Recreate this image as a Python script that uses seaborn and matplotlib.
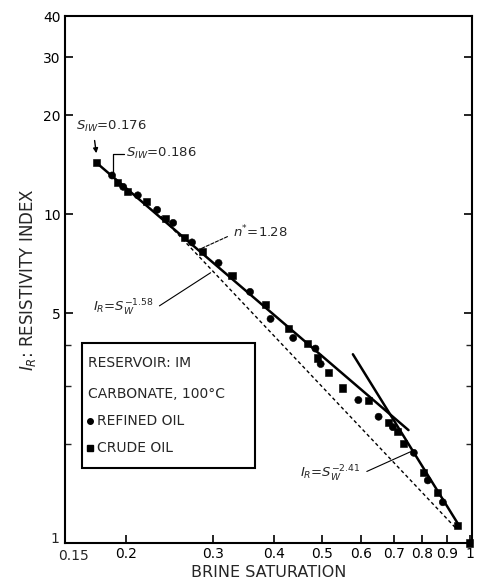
import numpy as np
import pandas as pd
import matplotlib
matplotlib.use("Agg")
import matplotlib.pyplot as plt
from matplotlib.patches import Rectangle
import seaborn as sns

# ---- measured points: brine saturation vs resistivity index ----
refined_sw = [0.187, 0.197, 0.211, 0.231, 0.249, 0.272, 0.308, 0.357, 0.393,
              0.437, 0.485, 0.497, 0.593, 0.652, 0.697, 0.769, 0.821, 0.881]
refined_ir = [13.1, 12.1, 11.4, 10.3, 9.4, 8.2, 7.1, 5.8, 4.8,
              4.2, 3.9, 3.5, 2.72, 2.42, 2.25, 1.88, 1.55, 1.33]

crude_sw = [0.174, 0.192, 0.201, 0.220, 0.240, 0.263, 0.286, 0.328, 0.383,
            0.427, 0.467, 0.490, 0.516, 0.551, 0.622, 0.684, 0.713, 0.733,
            0.806, 0.860, 0.945, 1.0]
crude_ir = [14.3, 12.5, 11.7, 10.9, 9.7, 8.5, 7.7, 6.5, 5.3,
            4.5, 4.05, 3.65, 3.3, 2.96, 2.72, 2.33, 2.18, 2.01,
            1.64, 1.42, 1.13, 1.0]

# ---- fitted saturation exponents ----
n_star = 1.28          # fitted line through the low-saturation data
n_star_coef = 1.525
n_low = 1.58           # Archie reference line (dashed)
n_high = 2.41          # steep segment near full brine saturation
swi_refined = 0.176
swi_crude = 0.186

x_ticks = [0.15, 0.2, 0.3, 0.4, 0.5, 0.6, 0.7, 0.8, 0.9, 1.0]
x_tick_labels = ["0.15", "0.2", "0.3", "0.4", "0.5", "0.6", "0.7", "0.8", "0.9", "1"]
y_ticks = [1, 5, 10, 20, 30, 40]
y_tick_labels = ["1", "5", "10", "20", "30", "40"]
y_minor = [2, 3, 4]

legend_title = ["RESERVOIR: IM", "CARBONATE, 100°C"]
legend_labels = ["REFINED OIL", "CRUDE OIL"]

sns.set_style("ticks")
plt.rcParams["font.family"] = ["DejaVu Sans"]
plt.rcParams["mathtext.fontset"] = "dejavusans"

fig = plt.figure(figsize=(4.85, 5.85), dpi=100)
ax = fig.add_axes([65 / 485, 42 / 585, 407 / 485, 527 / 585])

pts = pd.DataFrame({
    "sw": refined_sw + crude_sw,
    "ir": refined_ir + crude_ir,
    "oil": [legend_labels[0]] * len(refined_sw) + [legend_labels[1]] * len(crude_sw),
})

# fitted lines
sw_a = np.geomspace(swi_refined * 0.99, 0.75, 30)
line_a = pd.DataFrame({"sw": sw_a, "ir": n_star_coef * sw_a ** (-n_star)})
sw_b = np.geomspace(0.235, 0.94, 30)
line_b = pd.DataFrame({"sw": sw_b, "ir": sw_b ** (-n_low)})
sw_c = np.geomspace(0.578, 0.945, 30)
line_c = pd.DataFrame({"sw": sw_c, "ir": sw_c ** (-n_high)})

sns.lineplot(data=line_a, x="sw", y="ir", color="black", lw=1.8, ax=ax)
sns.lineplot(data=line_b, x="sw", y="ir", color="black", lw=1.0, ax=ax,
             linestyle=(0, (2.5, 2)))
sns.lineplot(data=line_c, x="sw", y="ir", color="black", lw=1.8, ax=ax)

sns.scatterplot(data=pts, x="sw", y="ir", style="oil",
                markers={legend_labels[0]: "o", legend_labels[1]: "s"},
                color="black", edgecolor="black", s=26, legend=False,
                ax=ax, clip_on=False, zorder=5)

ax.set_xscale("log")
ax.set_yscale("log")
ax.set_xlim(0.15, 1.01)
ax.set_ylim(1, 40)

# the corner labels "0.15" and "1" are placed separately so they do not collide
ax.xaxis.set_major_locator(matplotlib.ticker.FixedLocator(x_ticks))
ax.xaxis.set_major_formatter(matplotlib.ticker.FixedFormatter([""] + x_tick_labels[1:]))
ax.xaxis.set_minor_locator(matplotlib.ticker.NullLocator())
ax.yaxis.set_major_locator(matplotlib.ticker.FixedLocator(y_ticks))
ax.yaxis.set_major_formatter(matplotlib.ticker.FixedFormatter([""] + y_tick_labels[1:]))
ax.yaxis.set_minor_locator(matplotlib.ticker.FixedLocator(y_minor))
ax.yaxis.set_minor_formatter(matplotlib.ticker.NullFormatter())

ax.tick_params(axis="both", which="major", direction="in", length=6, width=1.2,
               labelsize=10, colors="black", right=True, pad=3)
ax.tick_params(axis="both", which="minor", direction="in", length=4, width=1.0,
               right=True)
for sp in ax.spines.values():
    sp.set_visible(True)
    sp.set_linewidth(1.5)
    sp.set_color("black")

ax.annotate(x_tick_labels[0], xy=(x_ticks[0], 0), xycoords=ax.get_xaxis_transform(),
            xytext=(6, -4.5), textcoords="offset points", ha="center", va="top",
            fontsize=10)
ax.annotate(y_tick_labels[0], xy=(0, y_ticks[0]), xycoords=ax.get_yaxis_transform(),
            xytext=(-4, 3), textcoords="offset points", ha="right", va="center",
            fontsize=10)

ax.set_xlabel("BRINE SATURATION", fontsize=11.5, labelpad=3)
ax.set_ylabel(r"$I_R$: RESISTIVITY INDEX", fontsize=12, labelpad=4)

# annotations
ax.annotate(r"$S_{IW}$=%.3f" % swi_refined, xy=(crude_sw[0], crude_ir[0] * 1.05),
            xytext=(0.158, 18.4), fontsize=9.5, va="center", ha="left",
            arrowprops=dict(arrowstyle="-|>", color="black", lw=1.0,
                            mutation_scale=7, relpos=(0.25, 0.0)))
ax.plot([0.188, 0.188, 0.198], [13.2, 15.2, 15.2], color="black", lw=0.9)
ax.text(0.200, 15.3, r"$S_{IW}$=%.3f" % swi_crude, fontsize=9.5, va="center", ha="left")

ax.annotate(r"$n^{*}$=%.2f" % n_star, xy=(0.28, n_star_coef * 0.28 ** (-n_star)),
            xytext=(0.330, 8.8), fontsize=9.5, va="center", ha="left",
            arrowprops=dict(arrowstyle="-", color="black", lw=0.8,
                            linestyle=(0, (3, 1.5)), relpos=(0.0, 0.4)))
ax.annotate(r"$I_R$=$S_W^{-%.2f}$" % n_low, xy=(0.30, 0.30 ** (-n_low)),
            xytext=(0.171, 5.2), fontsize=9.5, va="center", ha="left",
            arrowprops=dict(arrowstyle="-", color="black", lw=0.8, relpos=(1.0, 0.4)))
ax.annotate(r"$I_R$=$S_W^{-%.2f}$" % n_high, xy=(0.765, 0.765 ** (-n_high)),
            xytext=(0.452, 1.62), fontsize=9.5, va="center", ha="left",
            arrowprops=dict(arrowstyle="-", color="black", lw=0.8, relpos=(1.0, 0.5)))

# legend box
ax.add_patch(Rectangle((0.0418, 0.142), 0.425, 0.2375, transform=ax.transAxes,
                       facecolor="white", edgecolor="black", lw=1.5, zorder=6))
ax.text(0.0565, 0.3416, legend_title[0], transform=ax.transAxes, fontsize=10,
        va="center", ha="left", zorder=7)
ax.text(0.0565, 0.2827, legend_title[1], transform=ax.transAxes, fontsize=10,
        va="center", ha="left", zorder=7)
for label, marker, yy in zip(legend_labels, ["o", "s"], [0.2315, 0.1803]):
    ax.plot([0.062], [yy], marker=marker, color="black", markersize=4,
            transform=ax.transAxes, zorder=7, clip_on=False)
    ax.text(0.078, yy, label, transform=ax.transAxes, fontsize=10,
            va="center", ha="left", zorder=7)

fig.savefig("out.png", dpi=100, facecolor="white")
